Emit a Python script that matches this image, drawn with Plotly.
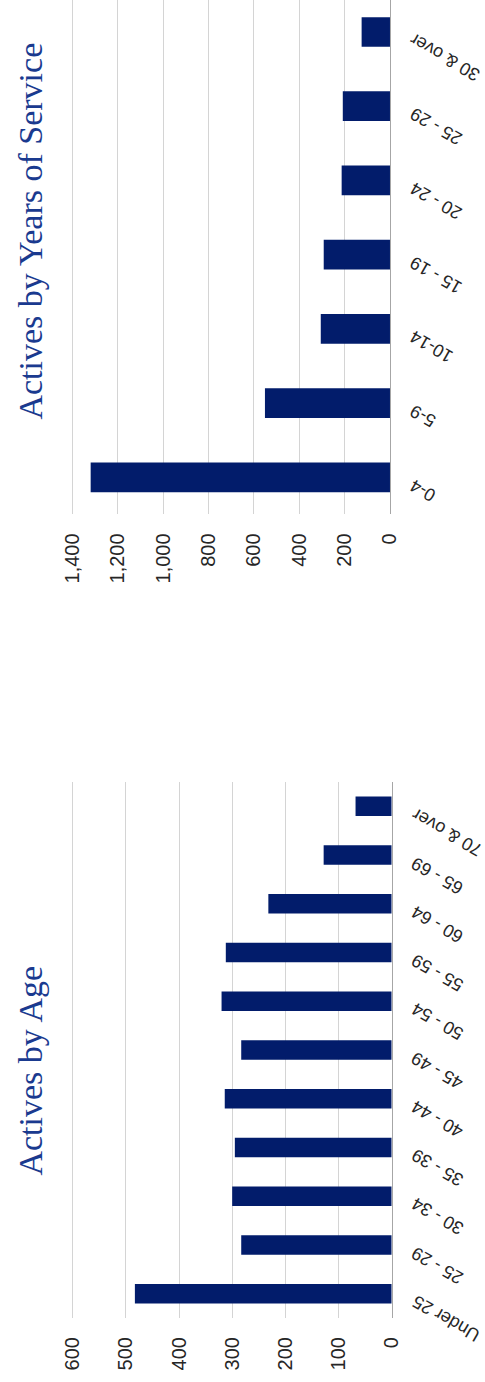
import plotly.graph_objects as go

# Active members by years of service
service_groups = ["0-4", "5-9", "10-14", "15 - 19", "20 - 24", "25 - 29", "30 & over"]
service_counts = [1319, 551, 305, 292, 213, 208, 125]

# Active members by age band
age_groups = ["Under 25", "25 - 29", "30 - 34", "35 - 39", "40 - 44", "45 - 49",
              "50 - 54", "55 - 59", "60 - 64", "65 - 69", "70 & over"]
age_counts = [483, 283, 300, 295, 314, 283, 320, 312, 232, 128, 68]

service_title = "Actives by Years of Service"
age_title = "Actives by Age"

BAR = "#021c6b"
TITLE = "#1a3a8f"
TEXT = "#262626"
GRID = "#d4d4d4"
AXIS = "#a6a6a6"
SANS = "Liberation Sans, Arial, sans-serif"
SERIF = "Liberation Serif, Times New Roman, serif"

fig = go.Figure()

fig.add_trace(go.Bar(
    x=service_counts, y=service_groups, orientation="h",
    xaxis="x", yaxis="y", width=0.4,
    marker=dict(color=BAR, line=dict(width=0)),
    hoverinfo="x+y", showlegend=False,
))
fig.add_trace(go.Bar(
    x=age_counts, y=age_groups, orientation="h",
    xaxis="x2", yaxis="y2", width=0.4,
    marker=dict(color=BAR, line=dict(width=0)),
    hoverinfo="x+y", showlegend=False,
))

value_axis = dict(
    tickangle=-90, tickformat=",", ticks="", showline=False, zeroline=False,
    showgrid=True, gridcolor=GRID, gridwidth=1, ticklabelstandoff=14,
    tickfont=dict(family=SANS, size=20, color=TEXT), automargin=False,
)
category_axis = dict(
    side="right", type="category", showticklabels=False, showgrid=False,
    zeroline=False, showline=True, linecolor=AXIS, linewidth=1, ticks="",
    automargin=False,
)

# value ranges run a little past the last gridline so it stays drawn
fig.update_layout(
    width=485, height=1382,
    margin=dict(l=68, r=93, t=0, b=64),
    paper_bgcolor="white", plot_bgcolor="white",
    bargap=0.6,
    xaxis=dict(value_axis, anchor="y", domain=[0.0034, 0.9938],
               range=[1414, 0], tickvals=list(range(0, 1401, 200))),
    yaxis=dict(category_axis, anchor="x", domain=[0.6097, 1.0],
               range=[-0.5, 6.431]),
    xaxis2=dict(value_axis, anchor="y2", domain=[0.0046, 0.9991],
                range=[606, 0], tickvals=list(range(0, 601, 100))),
    yaxis2=dict(category_axis, anchor="x2", domain=[0.0, 0.4067],
                range=[-0.5, 10.5]),
)

annotations = []
# Slanted category labels beside the zero line
for cats, xr, yr in ((service_groups, "x", "y"), (age_groups, "x2", "y2")):
    for c in cats:
        annotations.append(dict(
            x=0, xref=xr, y=c, yref=yr, text=c, showarrow=False,
            textangle=-150, xanchor="left", yanchor="top",
            xshift=14, yshift=5,
            font=dict(family=SANS, size=18, color=TEXT),
        ))

# Chart titles running up the left side
for title, ypos in ((service_title, 0.8244), (age_title, 0.1878)):
    annotations.append(dict(
        x=-0.117, xref="paper", y=ypos, yref="paper", text=title,
        showarrow=False, textangle=-90, xanchor="center", yanchor="middle",
        font=dict(family=SERIF, size=34, color=TITLE),
    ))

fig.update_layout(annotations=annotations)

fig.write_html("out.html")
